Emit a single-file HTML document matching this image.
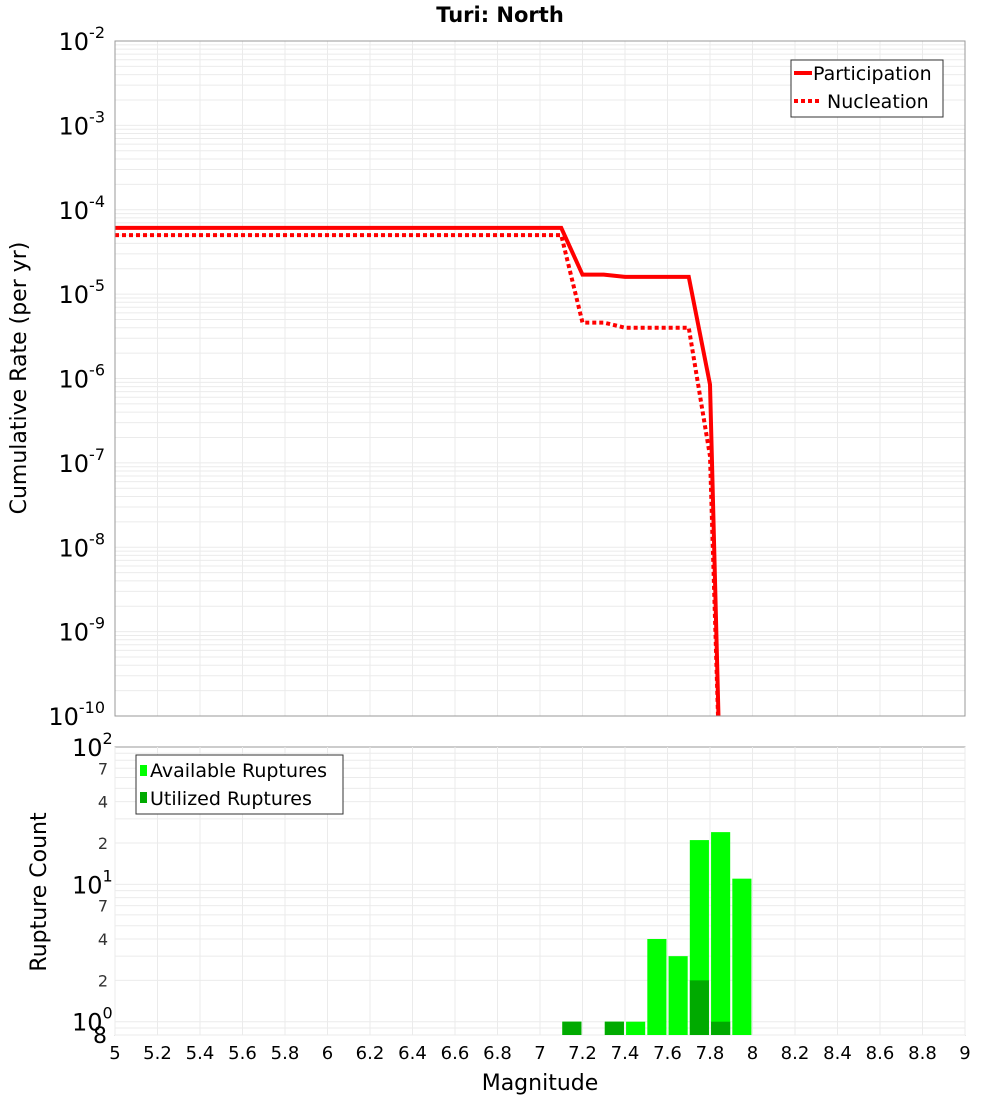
<!DOCTYPE html>
<html><head><meta charset="utf-8"><style>
body{margin:0;background:#fff;font-family:"Liberation Sans","DejaVu Sans",sans-serif}
</style></head><body>
<svg id="c" width="1000" height="1100" xmlns="http://www.w3.org/2000/svg" font-family="DejaVu Sans, Liberation Sans, sans-serif">
<rect width="1000" height="1100" fill="#fff"/>
<text x="500" y="22" text-anchor="middle" font-size="21" font-weight="bold">Turi: North</text>
<g id="top"></g><g id="bot"></g>
<text transform="translate(26,378) rotate(-90)" text-anchor="middle" font-size="22">Cumulative Rate (per yr)</text>
<text transform="translate(46,892) rotate(-90)" text-anchor="middle" font-size="22">Rupture Count</text>
<text x="540" y="1090" text-anchor="middle" font-size="22">Magnitude</text>
</svg>
<script>
const partMags=[5,7.1,7.2,7.3,7.4,7.7,7.8,7.85];
const partRates=[6.1e-5,6.1e-5,1.7e-5,1.7e-5,1.6e-5,1.6e-5,8.5e-7,1e-11];
const nuclMags=[5,7.1,7.2,7.3,7.4,7.7,7.8,7.85];
const nuclRates=[5.0e-5,5.0e-5,4.6e-6,4.6e-6,4.0e-6,4.0e-6,1.2e-7,1e-11];
const binMags=[7.15,7.35,7.45,7.55,7.65,7.75,7.85,7.95];
const availCounts=[1,1,1,4,3,21,24,11];
const usedCounts=[1,1,0,0,0,2,1,0];
const xTicks=[5,5.2,5.4,5.6,5.8,6,6.2,6.4,6.6,6.8,7,7.2,7.4,7.6,7.8,8,8.2,8.4,8.6,8.8,9];

const NS="http://www.w3.org/2000/svg";
const X0=115,X1=965;
const xs=m=>X0+(m-5)/4*(X1-X0);
const T0=41,T1=716; const yt=v=>T0+(-2-Math.log10(v))/8*(T1-T0);
const B0=747,B1=1035; const bMin=Math.log10(0.8); const yb=v=>B1-(Math.log10(v)-bMin)/(2-bMin)*(B1-B0);
function el(tag,attrs,parent){const e=document.createElementNS(NS,tag);for(const k in attrs)e.setAttribute(k,attrs[k]);parent.appendChild(e);return e;}
const gTop=document.getElementById('top'),gBot=document.getElementById('bot');
for(const g of [[gTop,T0,T1],[gBot,B0,B1]]){
  for(const tk of xTicks){const l=el('line',{x1:xs(tk),x2:xs(tk),y1:g[1],y2:g[2],stroke:'#ebebeb'},g[0]);
  
  }
}
for(let d=-10;d<-2;d++)for(let k=1;k<10;k++){const y=yt(k*Math.pow(10,d));
  const l=el('line',{x1:X0,x2:X1,y1:y,y2:y,stroke:'#ebebeb'},gTop);
  
  }
for(let d=-1;d<2;d++)for(let k=1;k<10;k++){const v=k*Math.pow(10,d);if(v<0.8)continue;const y=yb(v);
  const l=el('line',{x1:X0,x2:X1,y1:y,y2:y,stroke:'#ebebeb'},gBot);
  
  }
for(let d=-10;d<=-2;d++){const y=yt(Math.pow(10,d));
  const e=el('text',{x:105,y:y+9,'text-anchor':'end','font-size':24},gTop);
  
  
  e.innerHTML='10<tspan dy="-12" font-size="16">'+d+'</tspan>';}
for(let d=0;d<=2;d++){const y=yb(Math.pow(10,d));
  const e=el('text',{x:72,y:y+9,'font-size':24},gBot);
  
  
  e.innerHTML='10<tspan dy="-12" font-size="16">'+d+'</tspan>';}
for(const v of [2,4,7,20,40,70,0.8]){
  const e=el('text',{x:v<1?107:108,y:yb(v)+(v<1?8:6),'text-anchor':'end','font-size':v<1?22:16,fill:v<1?'#000':'#333'},gBot);
  
  
  e.textContent=v<1?'8':String(v>=10?v/10:v);}
for(const tk of xTicks){const e=el('text',{x:xs(tk),y:1059,'text-anchor':'middle','font-size':18},gBot);
  
  
  e.textContent=String(tk);}
const bw=0.09;
binMags.forEach((m,i)=>{const x=xs(m-bw/2),w=xs(m+bw/2)-x;
  if(availCounts[i]>0){const r=el('rect',{x:x,y:yb(availCounts[i]),width:w,height:B1-yb(availCounts[i]),fill:'#00ff00'},gBot);
  
  }
  if(usedCounts[i]>0){const r=el('rect',{x:x,y:yb(usedCounts[i]),width:w,height:B1-yb(usedCounts[i]),fill:'#00aa00'},gBot);
  
  }
});
const cp=el('clipPath',{id:'cl'},gTop);el('rect',{x:X0,y:T0,width:X1-X0,height:T1-T0},cp);
function line(ms,rs,dash,name){const p=el('polyline',{points:ms.map((m,i)=>xs(m)+','+yt(rs[i])).join(' '),fill:'none',stroke:'#ff0000','stroke-width':4,'stroke-dasharray':dash,'clip-path':'url(#cl)'},gTop);
  
  }
line(nuclMags,nuclRates,'4,3','nucleation-line');
line(partMags,partRates,'none','participation-line');
for(const f of [[T0,T1],[B0,B1]]){const r=el('rect',{x:X0,y:f[0],width:X1-X0,height:f[1]-f[0],fill:'none',stroke:'#999'},gTop);
  
  }
const lg=el('g',{},gTop);


el('rect',{x:791,y:60,width:152,height:57,fill:'#fff',stroke:'#333'},lg);
el('line',{x1:794,x2:812,y1:73,y2:73,stroke:'#f00','stroke-width':4},lg);
el('line',{x1:794,x2:822,y1:101,y2:101,stroke:'#f00','stroke-width':4,'stroke-dasharray':'4,3'},lg);
let tx=el('text',{x:813,y:80,'font-size':19},lg);tx.textContent='Participation';
tx=el('text',{x:827,y:108,'font-size':19},lg);tx.textContent='Nucleation';
const lb=el('g',{},gBot);


el('rect',{x:136,y:755,width:207,height:59,fill:'#fff',stroke:'#333'},lb);
el('rect',{x:140,y:765,width:7,height:11,fill:'#00ff00'},lb);
el('rect',{x:140,y:792,width:7,height:11,fill:'#00aa00'},lb);
tx=el('text',{x:150,y:777,'font-size':19},lb);tx.textContent='Available Ruptures';
tx=el('text',{x:150,y:805,'font-size':19},lb);tx.textContent='Utilized Ruptures';
</script>
</body></html>
